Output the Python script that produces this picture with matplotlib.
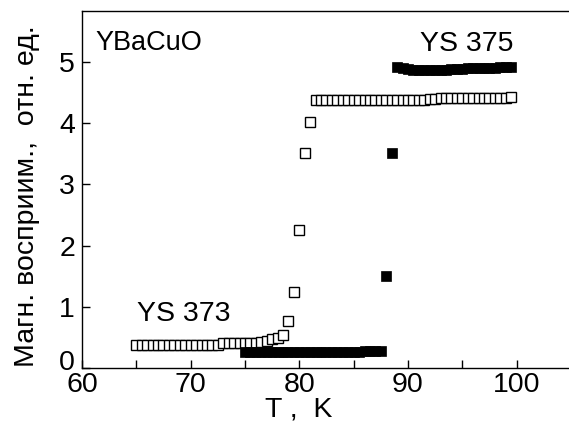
import matplotlib
matplotlib.use("Agg")
import matplotlib.pyplot as plt
import matplotlib.transforms as mtransforms

plt.rcParams['font.family'] = ['Liberation Sans', 'DejaVu Sans']

# YS 373 (open squares)
t_373 = [65.0, 65.5, 66.0, 66.5, 67.0, 67.5, 68.0, 68.5, 69.0, 69.5, 70.0, 70.5,
         71.0, 71.5, 72.0, 72.5, 73.0, 73.5, 74.0, 74.5, 75.0, 75.5, 76.0, 76.5,
         77.0, 77.5, 78.0, 78.5, 79.0, 79.5, 80.0, 80.5, 81.0,
         81.5, 82.0, 82.5, 83.0, 83.5, 84.0, 84.5, 85.0, 85.5, 86.0, 86.5, 87.0,
         87.5, 88.0, 88.5, 89.0, 89.5, 90.0, 90.5, 91.0, 91.5, 92.0, 92.5, 93.0,
         93.5, 94.0, 94.5, 95.0, 95.5, 96.0, 96.5, 97.0, 97.5, 98.0, 98.5, 99.0, 99.5]
m_373 = [0.38, 0.38, 0.38, 0.38, 0.38, 0.38, 0.38, 0.38, 0.38, 0.38, 0.38, 0.38,
         0.38, 0.38, 0.38, 0.38, 0.41, 0.41, 0.41, 0.41, 0.41, 0.42, 0.42, 0.43,
         0.45, 0.48, 0.50, 0.54, 0.77, 1.25, 2.26, 3.51, 4.01,
         4.38, 4.38, 4.38, 4.38, 4.38, 4.38, 4.38, 4.38, 4.38, 4.38, 4.38, 4.38,
         4.38, 4.38, 4.38, 4.38, 4.38, 4.38, 4.38, 4.38, 4.38, 4.39, 4.39, 4.40,
         4.40, 4.40, 4.40, 4.40, 4.40, 4.40, 4.40, 4.40, 4.40, 4.40, 4.41, 4.41, 4.42]

# YS 375 (filled squares)
t_375 = [75.0, 75.5, 76.0, 76.5, 77.0, 77.5, 78.0, 78.5, 79.0, 79.5, 80.0, 80.5,
         81.0, 81.5, 82.0, 82.5, 83.0, 83.5, 84.0, 84.5, 85.0, 85.5, 86.0, 86.5,
         87.0, 87.5, 88.0, 88.5,
         89.0, 89.5, 90.0, 90.5, 91.0, 91.5, 92.0, 92.5, 93.0, 93.5, 94.0, 94.5,
         95.0, 95.5, 96.0, 96.5, 97.0, 97.5, 98.0, 98.5, 99.0, 99.5]
m_375 = [0.26, 0.26, 0.26, 0.26, 0.26, 0.26, 0.26, 0.26, 0.26, 0.26, 0.26, 0.26,
         0.27, 0.27, 0.27, 0.27, 0.27, 0.27, 0.27, 0.27, 0.27, 0.27, 0.28, 0.28,
         0.28, 0.29, 1.51, 3.51,
         4.92, 4.90, 4.88, 4.87, 4.86, 4.86, 4.86, 4.87, 4.87, 4.87, 4.88, 4.88,
         4.88, 4.89, 4.89, 4.89, 4.90, 4.90, 4.90, 4.91, 4.91, 4.91]

x_major = [60, 70, 80, 90, 100]
x_minor = [65, 75, 85, 95]
y_ticks = [0, 1, 2, 3, 4, 5]

FS = 20.5
W, H = 569, 428
fig = plt.figure(figsize=(W / 100, H / 100), dpi=100)
left, right, bottom, top = 82, 571, 368.3, 10.7
ax = fig.add_axes([left / W, (H - bottom) / H, (right - left) / W, (bottom - top) / H])

ax.plot(t_373, m_373, linestyle='none', marker='s', markersize=6.6,
        markerfacecolor='white', markeredgecolor='black', markeredgewidth=1.0, zorder=3)
ax.plot(t_375, m_375, linestyle='none', marker='s', markersize=7.2,
        markerfacecolor='black', markeredgecolor='black', markeredgewidth=0.5, zorder=4)

ax.set_xlim(60, 105)
ax.set_ylim(0, 5.83)
ax.set_xticks(x_major)
ax.set_xticks(x_minor, minor=True)
ax.set_yticks(y_ticks)
ax.tick_params(axis='both', which='both', direction='in', labelsize=FS, width=1.0)
ax.tick_params(axis='both', which='major', length=6)
ax.tick_params(axis='x', which='minor', length=6)
ax.tick_params(axis='x', pad=3)
ax.tick_params(axis='y', pad=5)
ax.spines['right'].set_visible(False)
for s in ['left', 'bottom', 'top']:
    ax.spines[s].set_linewidth(1.0)

# shift '0' y tick label up slightly as in the reference
lbl0 = ax.get_yticklabels()[0]
lbl0.set_transform(lbl0.get_transform() + mtransforms.ScaledTranslation(0, 8 / 100, fig.dpi_scale_trans))

ax.set_xlabel('T ,  K', fontsize=FS)
ax.set_ylabel('Магн. восприим.,  отн. ед.', fontsize=FS)
# place labels like the reference (pixel positions converted to axes coords)
ax.xaxis.set_label_coords((299 - left) / (right - left), -(410 - bottom) / (bottom - top))
ax.yaxis.set_label_coords(-(left - 27) / (right - left), (bottom - 196) / (bottom - top))
ax.xaxis.label.set_va('center')
ax.yaxis.label.set_va('center')

ax.text(61.2, 5.3, 'YBaCuO', fontsize=19.5, ha='left', va='center')
ax.text(99.7, 5.28, 'YS 375', fontsize=FS, ha='right', va='center')
ax.text(65.1, 0.88, 'YS 373', fontsize=FS, ha='left', va='center')

fig.savefig('out.png', dpi=100)
